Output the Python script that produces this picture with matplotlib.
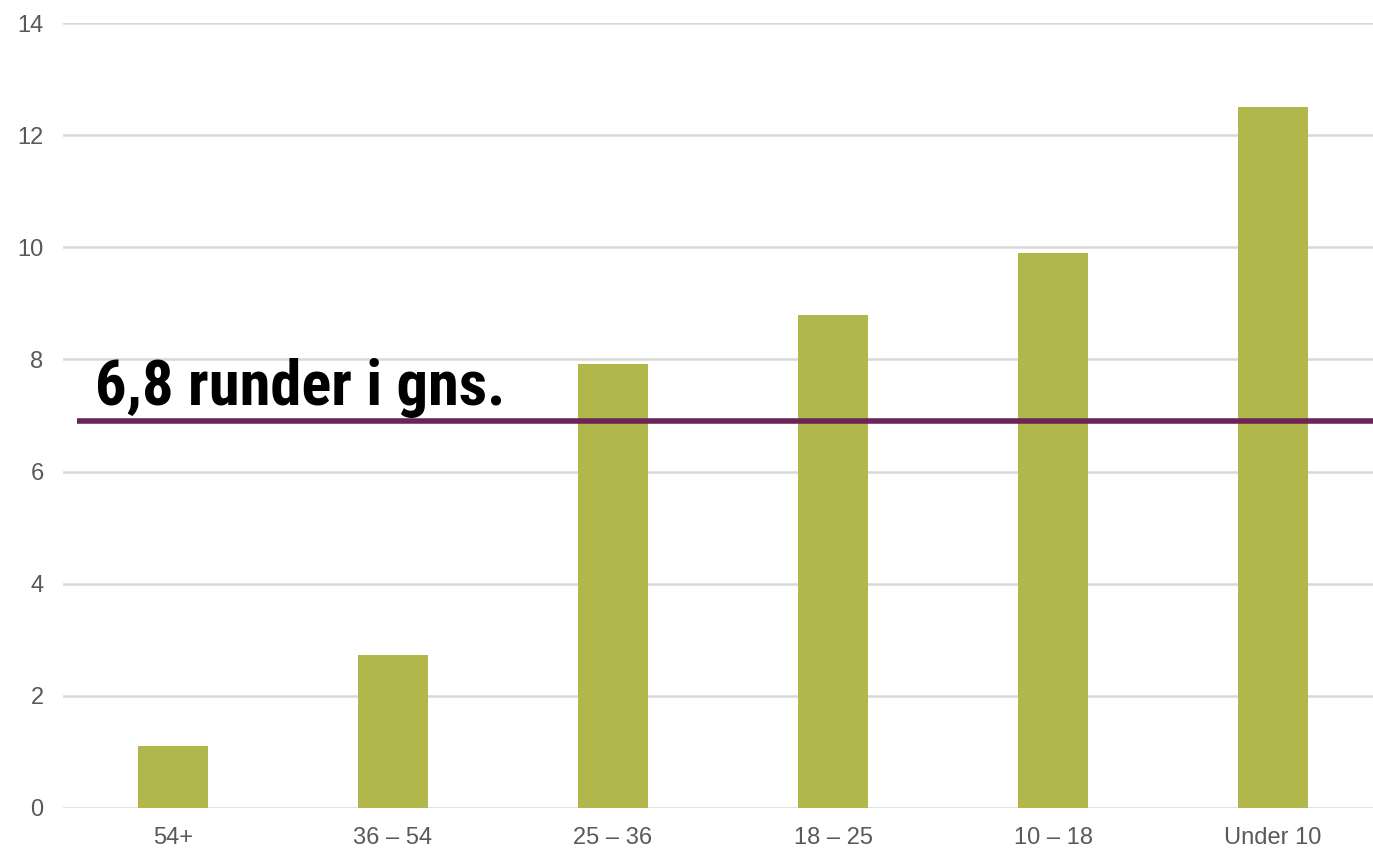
import matplotlib.pyplot as plt
from matplotlib import font_manager

categories = ["54+", "36 – 54", "25 – 36", "18 – 25", "10 – 18", "Under 10"]
rounds = [1.1, 2.72, 7.92, 8.8, 9.9, 12.5]
average = 6.9
avg_label = "6,8 runder i gns."

# the label in the original uses a condensed bold face; take one if there is one
names = {f.name for f in font_manager.fontManager.ttflist}
label_font, label_size = "Liberation Sans", 38
for cand in ["Liberation Sans Narrow", "Roboto Condensed", "Open Sans Condensed"]:
    if cand in names:
        label_font, label_size = cand, 45
        break

plt.rcParams["font.family"] = ["Liberation Sans", "DejaVu Sans"]

fig = plt.figure(figsize=(13.73, 8.48), dpi=100)
ax = fig.add_axes([63 / 1373, 40 / 848, 1320 / 1373, 785 / 848])

x = list(range(len(categories)))
ax.bar(x, rounds, width=0.318, color="#B1B74A", zorder=2)
ax.hlines(average, -0.436, 5.5, color="#6B2458", linewidth=4, zorder=3)
ax.text(-0.355, 7.18, avg_label, fontsize=label_size, fontweight="bold",
        family=[label_font, "DejaVu Sans"], color="black", va="baseline", zorder=4)

ax.set_xlim(-0.5, 5.5)
ax.set_ylim(0, 14)
ax.set_yticks(range(0, 15, 2))
ax.set_xticks(x)
ax.set_xticklabels(categories)
ax.grid(axis="y", color="#D9D9D9", linewidth=1.8, zorder=0)
ax.set_axisbelow(True)
for s in ax.spines.values():
    s.set_visible(False)
ax.tick_params(axis="both", length=0, labelsize=17, labelcolor="#595959")
ax.tick_params(axis="y", pad=14)
ax.tick_params(axis="x", pad=14)

fig.savefig("out.png", dpi=100)
